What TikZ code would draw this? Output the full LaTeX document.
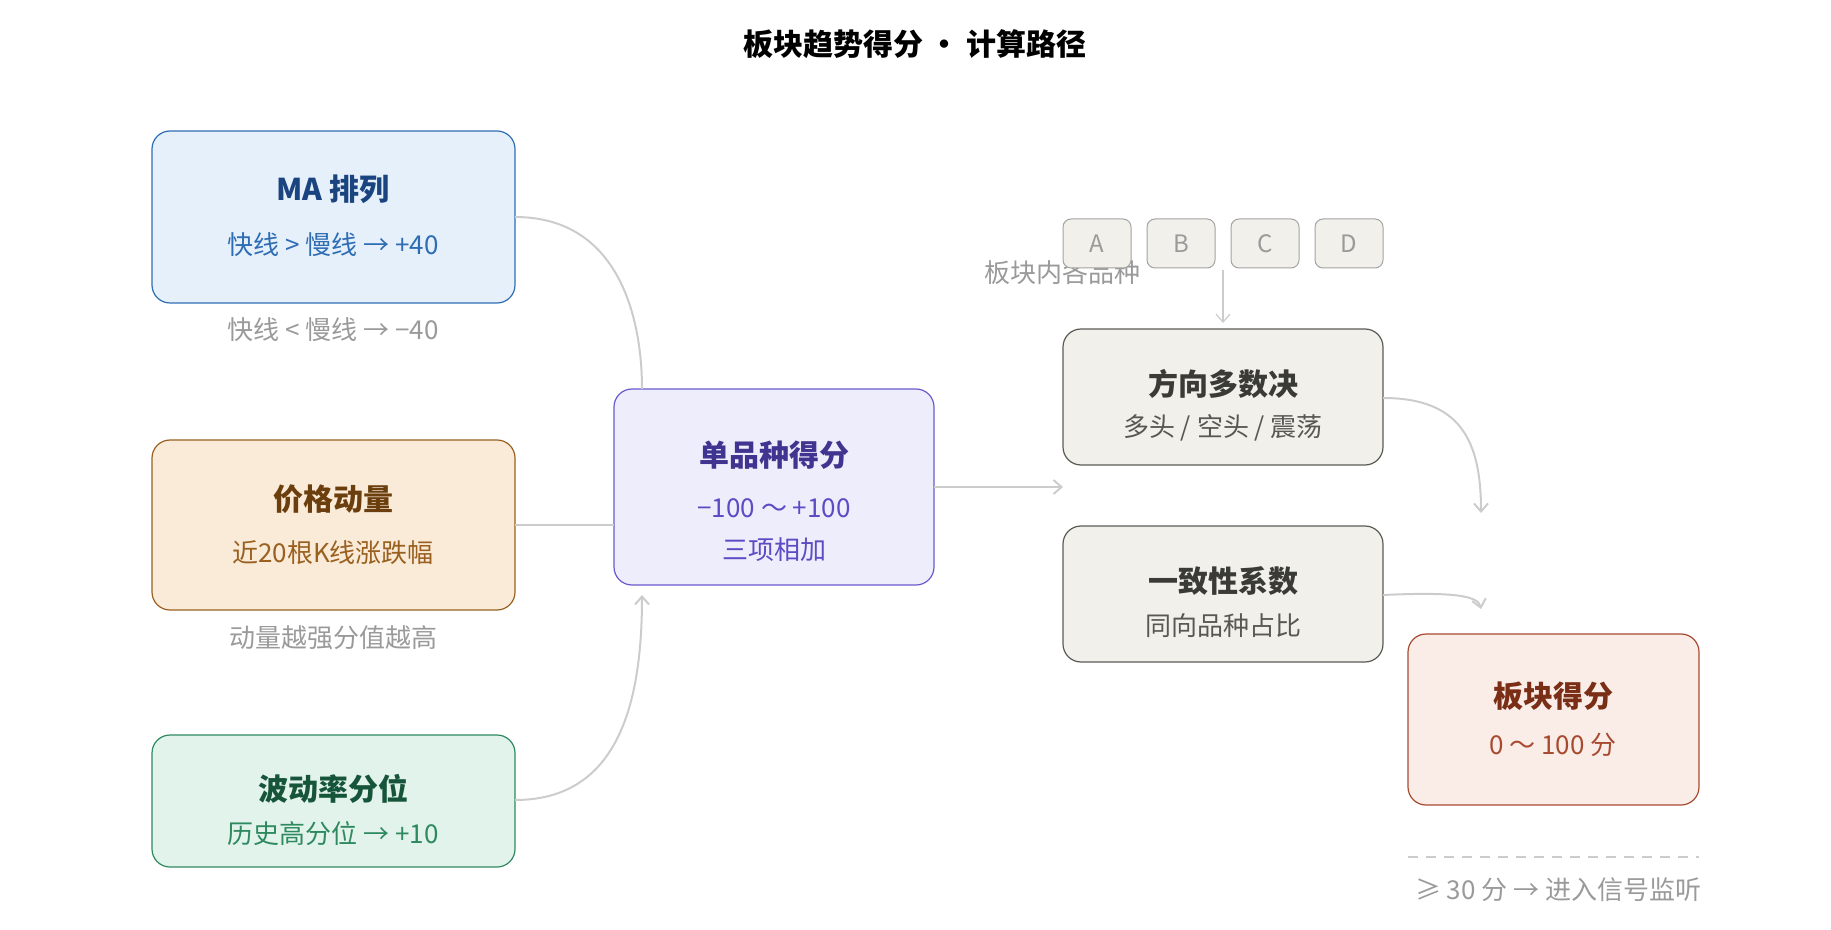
\documentclass[tikz,border=0pt]{standalone}
\usepackage{fontspec}
\setmainfont{Noto Sans CJK SC}
\usetikzlibrary{arrows.meta}
\definecolor{maF}{HTML}{E6F0FB}\definecolor{maD}{HTML}{2E6DB4}\definecolor{maT}{HTML}{1A4480}
\definecolor{prF}{HTML}{FAEBD8}\definecolor{prD}{HTML}{9A6020}\definecolor{prT}{HTML}{6B3E0E}
\definecolor{voF}{HTML}{E2F3EC}\definecolor{voD}{HTML}{2E8A5E}\definecolor{voT}{HTML}{16553A}
\definecolor{ceF}{HTML}{EEEDFC}\definecolor{ceD}{HTML}{6A5ACD}\definecolor{ceT}{HTML}{3F3590}\definecolor{ceS}{HTML}{5B4BC4}
\definecolor{grF}{HTML}{F2F0EA}\definecolor{grD}{HTML}{5A5A55}\definecolor{grT}{HTML}{3A3A36}
\definecolor{seF}{HTML}{FAECE7}\definecolor{seD}{HTML}{A84A30}\definecolor{seT}{HTML}{7A2E15}
\definecolor{lab}{HTML}{9A9A9A}\definecolor{con}{HTML}{CCCCCC}
\begin{document}
\begin{tikzpicture}[x=0.5pt,y=-0.5pt,
 box/.style={draw,rounded corners=9pt,line width=0.6pt},
 ttl/.style={font=\fontsize{15}{18}\selectfont\bfseries},
 sub/.style={font=\fontsize{13}{16}\selectfont},
 lbl/.style={font=\fontsize{13}{16}\selectfont,text=lab},
 sm/.style={draw=con!80!black,fill=grF,rounded corners=4pt,line width=0.5pt,font=\fontsize{12}{14}\selectfont,text=lab},
 con/.style={draw=con,line width=1pt},
 arr/.style={con,-{Straight Barb[length=4pt,width=7pt]}}]
\useasboundingbox (0,0) rectangle (1831,930);
\node[font=\fontsize{15}{18}\selectfont\bfseries] (title) at (915,44) {板块趋势得分 · 计算路径};
% left boxes
\draw[box,fill=maF,draw=maD] (152,131) rectangle (515,303);
\node (ma) at (333.5,217) {};
\node[ttl,text=maT] (mat) at (333,189) {MA 排列};
\node[sub,text=maD] (mas) at (333,245) {快线 > 慢线 → +40};
\node[lbl] (mal) at (333,330) {快线 < 慢线 → −40};
\draw[box,fill=prF,draw=prD] (152,440) rectangle (515,610);
\node[ttl,text=prT] (prt) at (333,499) {价格动量};
\node[sub,text=prD] (prs) at (333,553) {近20根K线涨跌幅};
\node[lbl] (prl) at (333,638) {动量越强分值越高};
\draw[box,fill=voF,draw=voD] (152,735) rectangle (515,867);
\node[ttl,text=voT] (vot) at (333,789) {波动率分位};
\node[sub,text=voD] (vos) at (333,834) {历史高分位 → +10};
% center
\draw[box,fill=ceF,draw=ceD] (614,389) rectangle (934,585);
\node[ttl,text=ceT] (cet) at (774,455) {单品种得分};
\node[sub,text=ceS] (ces) at (774,508) {−100 ～ +100};
\node[sub,text=ceS] (ce3) at (774,550) {三项相加};
% small
\node[lbl] (inl) at (1062,273) {板块内各品种};
\node[sm,minimum width=68pt*0.5,minimum height=49pt*0.5] (A) at (1097,243.5) {A};
\node[sm,minimum width=68pt*0.5,minimum height=49pt*0.5] (B) at (1181,243.5) {B};
\node[sm,minimum width=68pt*0.5,minimum height=49pt*0.5] (C) at (1265,243.5) {C};
\node[sm,minimum width=68pt*0.5,minimum height=49pt*0.5] (D) at (1349,243.5) {D};
% gray
\draw[box,fill=grF,draw=grD] (1063,329) rectangle (1383,465);
\node[ttl,text=grT] (dit) at (1223,384) {方向多数决};
\node[sub,text=grT!85] (dis) at (1223,428) {多头 / 空头 / 震荡};
\draw[box,fill=grF,draw=grD] (1063,526) rectangle (1383,662);
\node[ttl,text=grT] (cot) at (1223,581) {一致性系数};
\node[sub,text=grT!85] (cos) at (1223,626) {同向品种占比};
\draw[box,fill=seF,draw=seD] (1408,634) rectangle (1699,805);
\node[ttl,text=seT] (set) at (1553,696) {板块得分};
\node[sub,text=seD] (ses) at (1553,745) {0 ～ 100 分};
\draw[dashed,draw=con,line width=0.8pt,dash pattern=on 5pt off 4pt] (1408,857) -- (1699,857);
\node[lbl,anchor=west] (note) at (1408,890) {≥ 30 分 → 进入信号监听};
% coordinates
\coordinate (p1) at (515,217); \coordinate (q1) at (642,389);
\coordinate (p2) at (515,525); \coordinate (q2) at (614,525);
\coordinate (p3) at (515,800); \coordinate (q3) at (642,595);
\coordinate (p4) at (934,487); \coordinate (q4) at (1063,487);
\coordinate (p5) at (1223,270); \coordinate (q5) at (1223,323);
\coordinate (p6) at (1383,398); \coordinate (q6) at (1481,513);
\coordinate (p7) at (1383,595); \coordinate (q7) at (1481,609);
\draw[con] (p1) .. controls (620,217) and (642,320) .. (q1);
\draw[con] (p2) -- (q2);
\draw[arr] (p3) .. controls (620,800) and (642,700) .. (q3);
\draw[arr] (p4) -- (q4);
\draw[arr,line width=0.6pt] (p5) -- (q5);
\draw[arr] (p6) .. controls (1460,398) and (1481,440) .. (q6);
\draw[arr] (p7) .. controls (1450,592) and (1478,595) .. (q7);
\end{tikzpicture}
\end{document}
